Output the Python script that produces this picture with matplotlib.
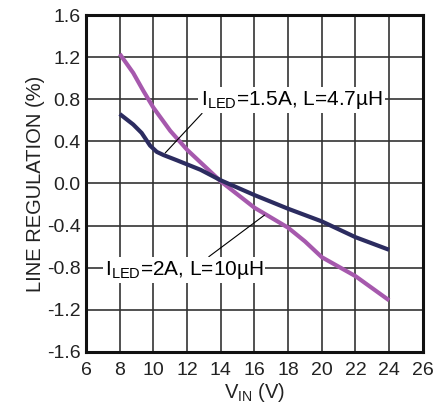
import numpy as np
import matplotlib.pyplot as plt

plt.rcParams['font.family'] = ['Liberation Sans', 'DejaVu Sans']

# ILED = 1.5A, L = 4.7uH (navy)
vin_a = [8, 8.8, 9.3, 9.8, 10.2, 10.6, 11.4, 12.8, 14, 16, 18, 20, 22, 24]
reg_a = [0.66, 0.56, 0.48, 0.36, 0.30, 0.27, 0.22, 0.13, 0.03, -0.11, -0.24, -0.36, -0.51, -0.63]

# ILED = 2A, L = 10uH (purple)
vin_b = [8, 8.8, 9.4, 10, 11, 12, 13, 14, 16, 18, 19, 20, 22, 24]
reg_b = [1.23, 1.05, 0.88, 0.72, 0.5, 0.32, 0.17, 0.02, -0.23, -0.42, -0.55, -0.70, -0.88, -1.11]

xticks = np.arange(6, 27, 2)
yticks = np.round(np.arange(-1.6, 1.61, 0.4), 1)
ytick_labels = ['-1.6', '-1.2', '-0.8', '-0.4', '0.0', '0.4', '0.8', '1.2', '1.6']

fig = plt.figure(figsize=(4.46, 4.17), dpi=100)
ax = fig.add_axes([0.193, 0.156, 0.755, 0.808])

ax.plot(vin_b, reg_b, color='#a659ad', lw=3.0, solid_capstyle='butt', zorder=3)
ax.plot(vin_a, reg_a, color='#2c2c60', lw=3.0, solid_capstyle='butt', zorder=3)

ax.set_xlim(6, 26)
ax.set_ylim(-1.6, 1.6)
ax.set_xticks(xticks)
ax.set_yticks(yticks)
ax.set_yticklabels(ytick_labels)
ax.tick_params(length=0, labelsize=14, colors='#222222')
ax.tick_params(axis='x', pad=7)
ax.tick_params(axis='y', pad=4)
ax.grid(True, color='#333333', lw=1.2)
ax.set_axisbelow(True)
for s in ax.spines.values():
    s.set_linewidth(2.2)
    s.set_color('#111111')

ax.set_ylabel('LINE REGULATION (%)', fontsize=14.5, color='#222222', labelpad=1)
ax.set_xlabel(r'V$_{\mathregular{IN}}$ (V)', fontsize=14.5, color='#222222', labelpad=2)

box = dict(facecolor='white', edgecolor='none', pad=1.5)
ax.annotate(r'I$_{\mathregular{LED}}$=1.5A, L=4.7µH', xy=(10.7, 0.29), xytext=(12.8, 0.79),
            fontsize=15, va='center', ha='left', bbox=box, zorder=4,
            arrowprops=dict(arrowstyle='-', color='black', lw=0.8, shrinkA=0, shrinkB=0,
                            relpos=(0.03, 0.1)))
ax.annotate(r'I$_{\mathregular{LED}}$=2A, L=10µH', xy=(16.6, -0.30), xytext=(7.1, -0.82),
            fontsize=15, va='center', ha='left', bbox=box, zorder=4,
            arrowprops=dict(arrowstyle='-', color='black', lw=0.8, shrinkA=0, shrinkB=0,
                            relpos=(0.62, 0.9)))

fig.savefig('out.png', dpi=100)
